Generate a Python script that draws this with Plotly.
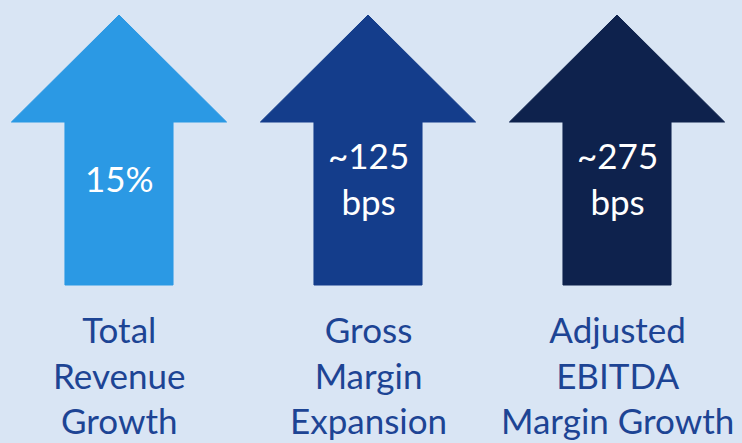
import plotly.graph_objects as go

# ---- data ----
categories = ["Total<br>Revenue<br>Growth", "Gross<br>Margin<br>Expansion", "Adjusted<br>EBITDA<br>Margin Growth"]
values = ["15%", "~125<br>bps", "~275<br>bps"]
arrow_colors = ["#2B99E4", "#143D8B", "#0E224D"]

BG = "#D9E5F4"
LABEL_COLOR = "#1D4494"
FONT = "Lato, 'Open Sans', sans-serif"

# arrow geometry (x in category units, y in plot units)
HEAD_HALF = 0.432
SHAFT_HALF = 0.217
Y_TIP, Y_HEAD, Y_BOTTOM = 428, 321, 158
Y_VALUE, Y_LABEL = 265, 69

fig = go.Figure()
for i, (cat, val, col) in enumerate(zip(categories, values, arrow_colors)):
    xs = [i, i + HEAD_HALF, i + SHAFT_HALF, i + SHAFT_HALF, i - SHAFT_HALF, i - SHAFT_HALF, i - HEAD_HALF, i]
    ys = [Y_TIP, Y_HEAD, Y_HEAD, Y_BOTTOM, Y_BOTTOM, Y_HEAD, Y_HEAD, Y_TIP]
    fig.add_trace(go.Scatter(x=xs, y=ys, mode="lines", fill="toself", fillcolor=col,
                             line=dict(color=col, width=1), hoverinfo="skip", showlegend=False))
    fig.add_annotation(x=i, y=Y_VALUE, text=val, showarrow=False, xanchor="center", yanchor="middle",
                       font=dict(family=FONT, size=35, color="white"), align="center")
    fig.add_annotation(x=i, y=Y_LABEL, text=cat, showarrow=False, xanchor="center", yanchor="middle",
                       font=dict(family=FONT, size=35, color=LABEL_COLOR), align="center")

fig.update_layout(
    width=742, height=443,
    margin=dict(l=0, r=0, t=0, b=0),
    paper_bgcolor=BG, plot_bgcolor=BG,
    xaxis=dict(range=[-0.4779, 2.502], visible=False, fixedrange=True),
    yaxis=dict(range=[0, 443], visible=False, fixedrange=True),
)

fig.write_html("out.html")
